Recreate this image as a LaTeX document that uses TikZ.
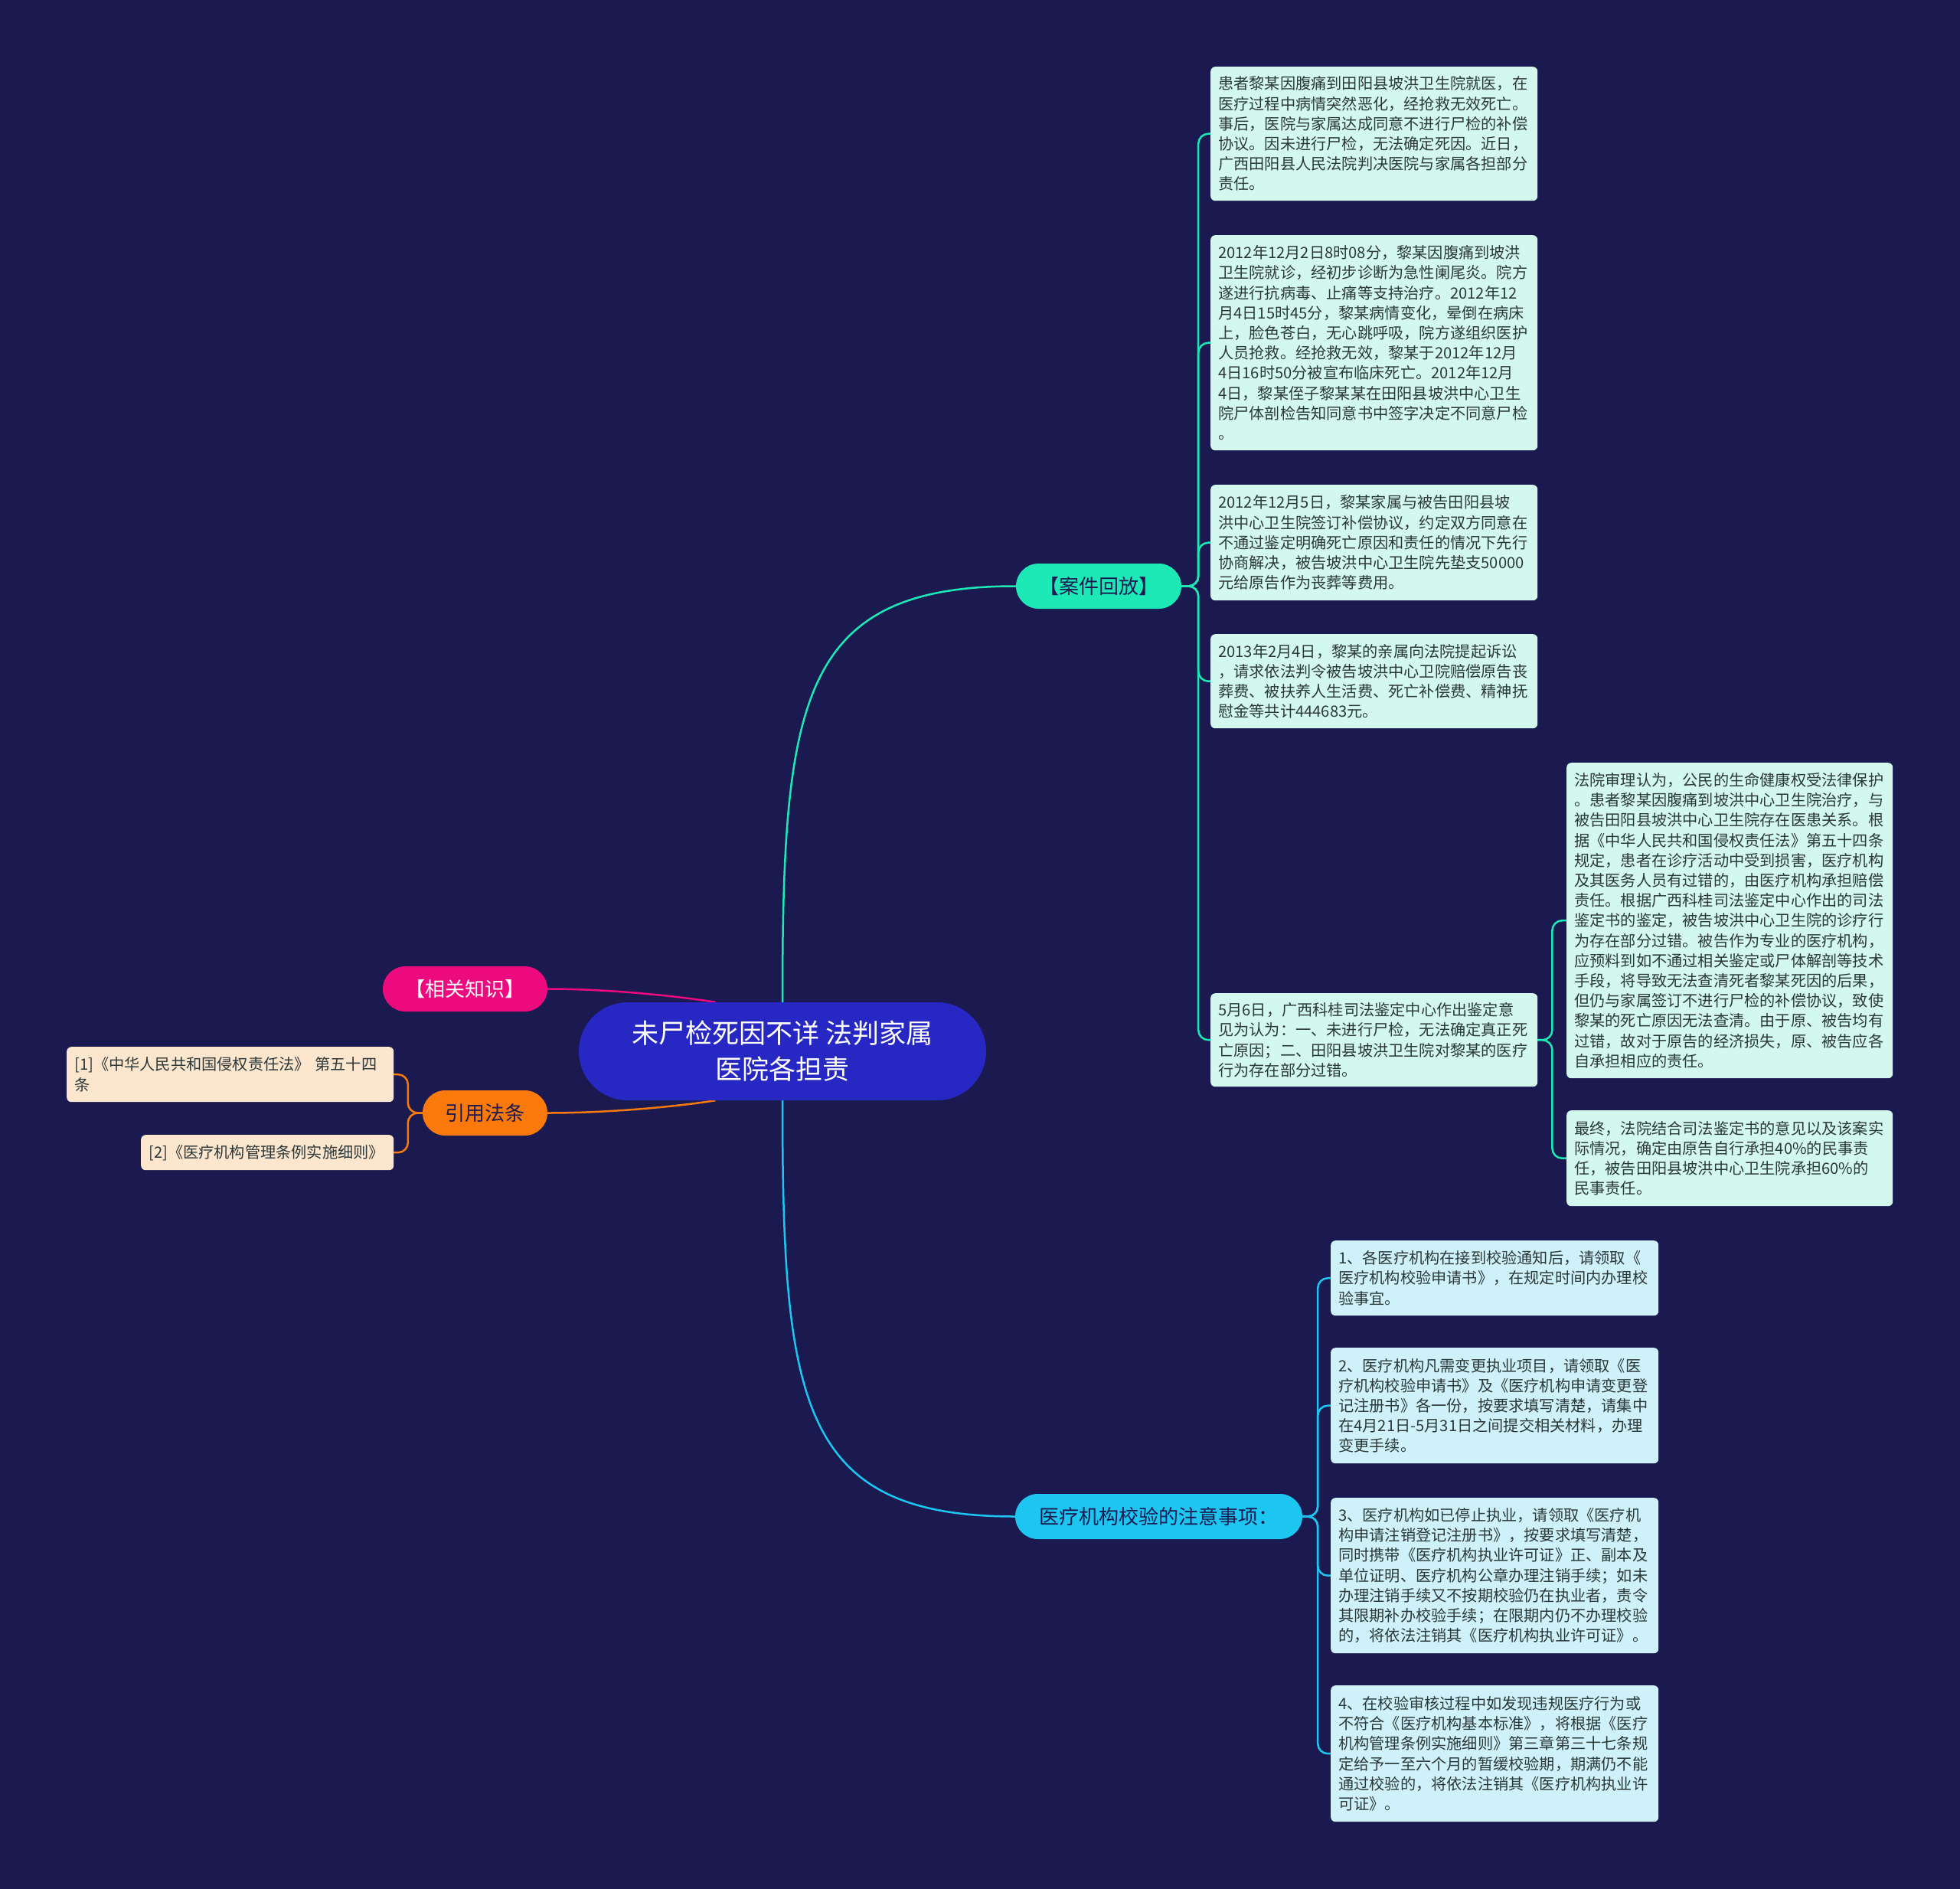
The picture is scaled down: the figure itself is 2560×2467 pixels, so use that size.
\documentclass[tikz,border=0pt]{standalone}
\usepackage{fontspec}
\setmainfont{Noto Sans CJK SC}
\usetikzlibrary{calc}
\pgfdeclarelayer{edges}
\pgfsetlayers{edges,main}
\definecolor{bg}{HTML}{1A1A50}
\definecolor{central}{HTML}{2727C4}
\definecolor{casec}{HTML}{1DE9B6}
\definecolor{notec}{HTML}{1CC6F0}
\definecolor{relc}{HTML}{EC0A7E}
\definecolor{lawc}{HTML}{F97A0B}
\definecolor{casefill}{HTML}{D3F8EE}
\definecolor{notefill}{HTML}{CFF2FA}
\definecolor{lawfill}{HTML}{FDE6CE}
\definecolor{boxtext}{HTML}{2B3838}
\definecolor{labdark}{HTML}{1A1A50}
\begin{document}
\begin{tikzpicture}[x=1pt,y=-1pt,
  txtbox/.style={anchor=north west, align=left, inner xsep=10pt, inner ysep=0pt,
    rounded corners=6pt, text=boxtext, font=\fontsize{20.2}{26.2}\selectfont},
  casebox/.style={txtbox, fill=casefill},
  notebox/.style={txtbox, fill=notefill},
  lawbox/.style={txtbox, fill=lawfill},
  pill/.style={rounded corners=29.5pt, minimum height=59pt, inner sep=0pt,
    font=\fontsize{26}{30}\selectfont},
  link/.style={line width=2.5pt, line cap=round},
  bracket/.style={link, rounded corners=13pt}]
\useasboundingbox (0,0) rectangle (2560,2467);
\begin{pgfonlayer}{edges}
\fill[bg] (0,0) rectangle (2560,2467);
\end{pgfonlayer}

% central node
\node[rounded corners=64pt, fill=central, minimum width=532pt, minimum height=128pt,
  inner sep=0pt, align=center, text=white, font=\fontsize{35}{47}\selectfont]
  (c) at (1022,1373) {未尸检死因不详 法判家属\\医院各担责};

% main labels
\node[pill, fill=casec, minimum width=216pt, text=labdark] (case) at (1435,765.5) {【案件回放】};
\node[pill, fill=notec, minimum width=375pt, text=labdark] (note) at (1513.5,1980.5) {医疗机构校验的注意事项：};
\node[pill, fill=relc, minimum width=215pt, text=white] (rel) at (607.5,1291.5) {【相关知识】};
\node[pill, fill=lawc, minimum width=163pt, text=labdark] (law) at (633.5,1453.5) {引用法条};

% case boxes
\node[casebox, text width=407pt, minimum height=175pt] (A) at (1581,87) {患者黎某因腹痛到田阳县坡洪卫生院就医，在\\医疗过程中病情突然恶化，经抢救无效死亡。\\事后，医院与家属达成同意不进行尸检的补偿\\协议。因未进行尸检，无法确定死因。近日，\\广西田阳县人民法院判决医院与家属各担部分\\责任。};
\node[casebox, text width=407pt, minimum height=281pt] (B) at (1581,307) {2012年12月2日8时08分，黎某因腹痛到坡洪\\卫生院就诊，经初步诊断为急性阑尾炎。院方\\遂进行抗病毒、止痛等支持治疗。2012年12\\月4日15时45分，黎某病情变化，晕倒在病床\\上，脸色苍白，无心跳呼吸，院方遂组织医护\\人员抢救。经抢救无效，黎某于2012年12月\\4日16时50分被宣布临床死亡。2012年12月\\4日，黎某侄子黎某某在田阳县坡洪中心卫生\\院尸体剖检告知同意书中签字决定不同意尸检\\。};
\node[casebox, text width=407pt, minimum height=151pt] (C) at (1581,633) {2012年12月5日，黎某家属与被告田阳县坡\\洪中心卫生院签订补偿协议，约定双方同意在\\不通过鉴定明确死亡原因和责任的情况下先行\\协商解决，被告坡洪中心卫生院先垫支50000\\元给原告作为丧葬等费用。};
\node[casebox, text width=407pt, minimum height=123pt] (D) at (1581,828) {2013年2月4日，黎某的亲属向法院提起诉讼\\，请求依法判令被告坡洪中心卫院赔偿原告丧\\葬费、被扶养人生活费、死亡补偿费、精神抚\\慰金等共计444683元。};
\node[casebox, text width=407pt, minimum height=122pt] (E) at (1581,1297) {5月6日，广西科桂司法鉴定中心作出鉴定意\\见为认为：一、未进行尸检，无法确定真正死\\亡原因；二、田阳县坡洪卫生院对黎某的医疗\\行为存在部分过错。};
\node[casebox, text width=406pt, minimum height=412pt] (F) at (2046,996) {法院审理认为，公民的生命健康权受法律保护\\。患者黎某因腹痛到坡洪中心卫生院治疗，与\\被告田阳县坡洪中心卫生院存在医患关系。根\\据《中华人民共和国侵权责任法》第五十四条\\规定，患者在诊疗活动中受到损害，医疗机构\\及其医务人员有过错的，由医疗机构承担赔偿\\责任。根据广西科桂司法鉴定中心作出的司法\\鉴定书的鉴定，被告坡洪中心卫生院的诊疗行\\为存在部分过错。被告作为专业的医疗机构，\\应预料到如不通过相关鉴定或尸体解剖等技术\\手段，将导致无法查清死者黎某死因的后果，\\但仍与家属签订不进行尸检的补偿协议，致使\\黎某的死亡原因无法查清。由于原、被告均有\\过错，故对于原告的经济损失，原、被告应各\\自承担相应的责任。};
\node[casebox, text width=406pt, minimum height=125pt] (G) at (2046,1450) {最终，法院结合司法鉴定书的意见以及该案实\\际情况，确定由原告自行承担40\%的民事责\\任，被告田阳县坡洪中心卫生院承担60\%的\\民事责任。};

% note boxes
\node[notebox, text width=408pt, minimum height=98pt] (H) at (1738,1620) {1、各医疗机构在接到校验通知后，请领取《\\医疗机构校验申请书》，在规定时间内办理校\\验事宜。};
\node[notebox, text width=408pt, minimum height=151pt] (I) at (1738,1760) {2、医疗机构凡需变更执业项目，请领取《医\\疗机构校验申请书》及《医疗机构申请变更登\\记注册书》各一份，按要求填写清楚，请集中\\在4月21日-5月31日之间提交相关材料，办理\\变更手续。};
\node[notebox, text width=408pt, minimum height=203pt] (J) at (1738,1956) {3、医疗机构如已停止执业，请领取《医疗机\\构申请注销登记注册书》，按要求填写清楚，\\同时携带《医疗机构执业许可证》正、副本及\\单位证明、医疗机构公章办理注销手续；如未\\办理注销手续又不按期校验仍在执业者，责令\\其限期补办校验手续；在限期内仍不办理校验\\的，将依法注销其《医疗机构执业许可证》。};
\node[notebox, text width=408pt, minimum height=178pt] (K) at (1738,2201) {4、在校验审核过程中如发现违规医疗行为或\\不符合《医疗机构基本标准》，将根据《医疗\\机构管理条例实施细则》第三章第三十七条规\\定给予一至六个月的暂缓校验期，期满仍不能\\通过校验的，将依法注销其《医疗机构执业许\\可证》。};

% law boxes
\node[lawbox, text width=407pt, minimum height=72pt] (L1) at (87,1367) {{}[1]《中华人民共和国侵权责任法》 第五十四\\条};
\node[lawbox, text width=310pt, minimum height=46pt] (L2) at (184,1482) {{}[2]《医疗机构管理条例实施细则》};

% connectors
\begin{pgfonlayer}{edges}
\draw[link, draw=casec] (c.north) .. controls +(0,-395) and +(-282,0) .. (case.west);
\draw[link, draw=notec] (c.south) .. controls +(0,396) and +(-281,0) .. (note.west);
\draw[link, draw=relc] ($(c.north)+(-88,0)$) .. controls +(-50,-8) and +(80,0) .. (rel.east);
\draw[link, draw=lawc] ($(c.south)+(-88,0)$) .. controls +(-50,8) and +(80,0) .. (law.east);
\foreach \b in {A,B,C,D,E}
  \draw[bracket, draw=casec] (case.east) -- ++(22,0) |- (\b.west);
\foreach \b in {F,G}
  \draw[bracket, draw=casec] (E.east) -- ++(19,0) |- (\b.west);
\foreach \b in {H,I,J,K}
  \draw[bracket, draw=notec] (note.east) -- ++(20,0) |- (\b.west);
\foreach \b in {L1,L2}
  \draw[bracket, draw=lawc] (law.west) -- ++(-19,0) |- (\b.east);
\end{pgfonlayer}
\end{tikzpicture}
\end{document}
